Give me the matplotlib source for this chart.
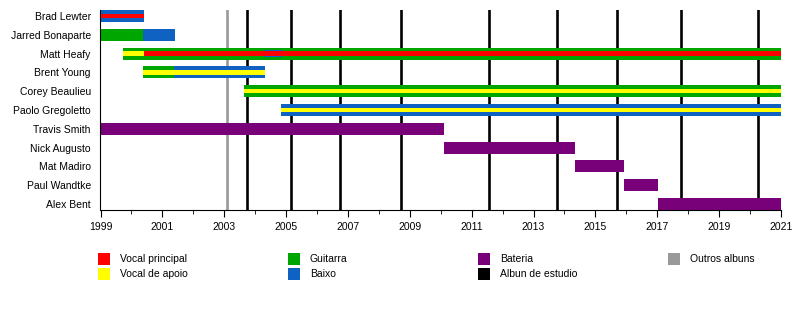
import matplotlib
matplotlib.use('Agg')
import matplotlib.pyplot as plt
from matplotlib.patches import Rectangle

plt.rcParams['font.family'] = ['Liberation Sans', 'DejaVu Sans']

members = ['Brad Lewter', 'Jarred Bonaparte', 'Matt Heafy', 'Brent Young',
           'Corey Beaulieu', 'Paolo Gregoletto', 'Travis Smith', 'Nick Augusto',
           'Mat Madiro', 'Paul Wandtke', 'Alex Bent']

# (member, start, end, role) - full height bars
main_bars = [
    ('Brad Lewter', 1999.0, 2000.41, 'Baixo'),
    ('Jarred Bonaparte', 1999.0, 2000.38, 'Guitarra'),
    ('Jarred Bonaparte', 2000.38, 2001.41, 'Baixo'),
    ('Matt Heafy', 1999.73, 2021.0, 'Guitarra'),
    ('Brent Young', 2000.38, 2001.38, 'Guitarra'),
    ('Brent Young', 2001.38, 2004.32, 'Baixo'),
    ('Corey Beaulieu', 2003.65, 2021.0, 'Guitarra'),
    ('Paolo Gregoletto', 2004.84, 2021.0, 'Baixo'),
    ('Travis Smith', 1999.0, 2010.10, 'Bateria'),
    ('Nick Augusto', 2010.10, 2014.34, 'Bateria'),
    ('Mat Madiro', 2014.34, 2015.92, 'Bateria'),
    ('Paul Wandtke', 2015.92, 2017.01, 'Bateria'),
    ('Alex Bent', 2017.01, 2021.0, 'Bateria'),
]

# secondary roles, medium height
mid_bars = [
    ('Matt Heafy', 2004.29, 2004.86, 'Baixo'),
]

# vocal stripes, thin
inner_bars = [
    ('Brad Lewter', 1999.0, 2000.41, 'Vocal principal'),
    ('Matt Heafy', 1999.73, 2000.41, 'Vocal de apoio'),
    ('Matt Heafy', 2000.41, 2021.0, 'Vocal principal'),
    ('Brent Young', 2000.38, 2004.32, 'Vocal de apoio'),
    ('Corey Beaulieu', 2003.65, 2021.0, 'Vocal de apoio'),
    ('Paolo Gregoletto', 2004.84, 2021.0, 'Vocal de apoio'),
]

studio_albums = [2003.75, 2005.17, 2006.74, 2008.73, 2011.57, 2013.77,
                 2015.71, 2017.78, 2020.27]
other_albums = [2003.10]

role_colors = {
    'Vocal principal': '#ff0000',
    'Vocal de apoio': '#ffff00',
    'Guitarra': '#00a600',
    'Baixo': '#1062c2',
    'Bateria': '#780078',
    'Albun de estudio': '#000000',
    'Outros albuns': '#999999',
}
legend_cols = [['Vocal principal', 'Vocal de apoio'], ['Guitarra', 'Baixo'],
               ['Bateria', 'Albun de estudio'], ['Outros albuns']]


def main():
    W, H = 800, 310
    fs = 7.5
    fig = plt.figure(figsize=(8, 3.1), dpi=100)
    ax = fig.add_axes([100.5 / W, 1 - 210 / H, (781 - 100.5) / W, 200 / H])
    row = {m: i for i, m in enumerate(members)}

    for x in studio_albums:
        ax.axvline(x, color=role_colors['Albun de estudio'], lw=1.9, zorder=1)
    for x in other_albums:
        ax.axvline(x, color=role_colors['Outros albuns'], lw=1.9, zorder=1)

    for bars, h, z in [(main_bars, 0.636, 2), (mid_bars, 0.37, 3), (inner_bars, 0.24, 4)]:
        for m, s, e, r in bars:
            ax.barh(row[m], e - s, left=s, height=h, color=role_colors[r],
                    linewidth=0, zorder=z)

    ax.set_xlim(1999, 2021)
    ax.set_ylim(len(members) - 1 + 0.318, -0.318)
    ax.set_yticks(range(len(members)))
    ax.set_yticklabels(members, fontsize=fs)
    ax.tick_params(axis='y', length=0, pad=7)
    ax.set_xticks(range(1999, 2022, 2))
    ax.set_xticks(range(1999, 2022), minor=True)
    ax.tick_params(axis='x', which='major', length=5, labelsize=fs, pad=4)
    ax.tick_params(axis='x', which='minor', length=3)
    ax.spines['top'].set_visible(False)
    ax.spines['right'].set_visible(False)

    # legend drawn by hand in pixel coords
    col_x = [97.7, 287.7, 478.3, 668.3]
    row_y = [259, 274]
    for cx, labels in zip(col_x, legend_cols):
        for ry, lab in zip(row_y, labels):
            fig.add_artist(Rectangle((cx / W, 1 - (ry + 6) / H), 12 / W, 12 / H,
                                     transform=fig.transFigure,
                                     color=role_colors[lab], lw=0))
            fig.text((cx + 22) / W, 1 - ry / H, lab, fontsize=fs, va='center')

    fig.savefig('out.png', dpi=100)


if __name__ == '__main__':
    main()
